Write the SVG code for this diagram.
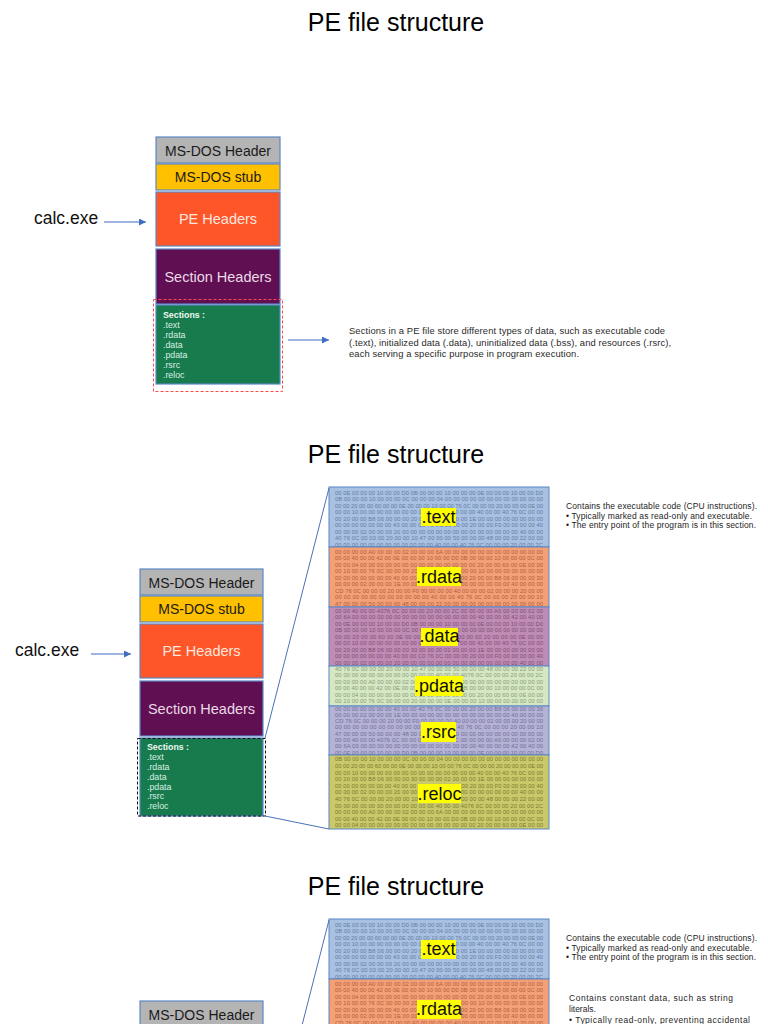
<svg xmlns="http://www.w3.org/2000/svg" width="768" height="1024" viewBox="0 0 768 1024">
<defs>
<marker id="ah" viewBox="0 0 10 10" refX="10" refY="5" markerWidth="7" markerHeight="7" markerUnits="userSpaceOnUse" orient="auto"><path d="M0,0 L10,5 L0,10 z" fill="#3f6fc0"/></marker>
<style>
text{font-family:"Liberation Sans",Arial,sans-serif}
.title{font-size:25px;fill:#000;text-anchor:middle}
.calc{font-size:17.5px;fill:#111}
.box{stroke:#5b86c5;stroke-width:1.2}
.bt{font-size:14px;text-anchor:middle}
.bt2{font-size:14.5px;text-anchor:middle}
.sec{font-size:8.8px;fill:#d9efe2}
.secb{font-size:8.8px;fill:#eef8f2;font-weight:bold}
.desc{font-size:9.4px;fill:#2a2a2a}
.desc2{font-size:8.5px;fill:#1e1e1e}
.hx{font-size:5.8px}
.ht{fill:#667ca2}.hr{fill:#b05d3c}.hd{fill:#824f74}.hp{fill:#8a9c79}.hs{fill:#736f98}.hl{fill:#7c7c2c}
.lab{fill:#ffff00}
.lt{font-size:18px;fill:#111;text-anchor:middle}
.zp{stroke:#5b86c5;stroke-width:1}
.conn{stroke:#3f6fc0;stroke-width:1.2;fill:none}
.zl{stroke:#4a72b8;stroke-width:1;fill:none}
</style>
</defs>
<rect width="768" height="1024" fill="#fff"/>

<!-- ================= PANEL 1 ================= -->
<text class="title" x="396" y="31">PE file structure</text>
<g id="p1-calc"><text class="calc" x="34" y="224">calc.exe</text></g>
<g id="p1-msdos-header"><rect class="box" x="156" y="137" width="124" height="26" fill="#b4b4b4"/><text class="bt" x="218" y="156" fill="#1a1a1a">MS-DOS Header</text></g>
<g id="p1-msdos-stub"><rect class="box" x="156" y="164" width="124" height="26" fill="#ffc000"/><text class="bt" x="218" y="182" fill="#1a1a1a">MS-DOS stub</text></g>
<g id="p1-pe-headers"><rect class="box" x="156" y="192" width="124" height="54" fill="#fe5628"/><text class="bt2" x="218" y="224" fill="#fbe6df">PE Headers</text></g>
<g id="p1-section-headers"><rect class="box" x="156" y="249" width="124" height="55" fill="#600f52"/><text class="bt2" x="218" y="282" fill="#ead9e6">Section Headers</text></g>
<g id="p1-sections"><rect class="box" x="156" y="305" width="124" height="79" fill="#187b4e"/>
<text class="secb" x="163" y="318">Sections :</text>
<text class="sec" x="163" y="328">.text</text>
<text class="sec" x="163" y="338">.rdata</text>
<text class="sec" x="163" y="347.5">.data</text>
<text class="sec" x="163" y="357.5">.pdata</text>
<text class="sec" x="163" y="367.5">.rsrc</text>
<text class="sec" x="163" y="377.5">.reloc</text>
<rect x="153.5" y="299.5" width="129" height="92" fill="none" stroke="#ff4a4a" stroke-width="1" stroke-dasharray="3,2"/></g>
<g id="p1-desc">
<text class="desc" x="349" y="334" textLength="316">Sections in a PE file store different types of data, such as executable code</text>
<text class="desc" x="349" y="346" textLength="322">(.text), initialized data (.data), uninitialized data (.bss), and resources (.rsrc),</text>
<text class="desc" x="349" y="357" textLength="230">each serving a specific purpose in program execution.</text>
</g>

<!-- ================= PANEL 2 ================= -->
<text class="title" x="396" y="463">PE file structure</text>
<g id="p2-calc"><text class="calc" x="15" y="656">calc.exe</text></g>
<g id="p2-msdos-header"><rect class="box" x="140" y="569" width="123" height="26" fill="#b4b4b4"/><text class="bt" x="201.5" y="588" fill="#1a1a1a">MS-DOS Header</text></g>
<g id="p2-msdos-stub"><rect class="box" x="140" y="596" width="123" height="26" fill="#ffc000"/><text class="bt" x="201.5" y="614" fill="#1a1a1a">MS-DOS stub</text></g>
<g id="p2-pe-headers"><rect class="box" x="140" y="624" width="123" height="54" fill="#fe5628"/><text class="bt2" x="201.5" y="656" fill="#fbe6df">PE Headers</text></g>
<g id="p2-section-headers"><rect class="box" x="140" y="681" width="123" height="55" fill="#600f52"/><text class="bt2" x="201.5" y="714" fill="#ead9e6">Section Headers</text></g>
<g id="p2-sections"><rect class="box" x="140" y="738" width="123" height="78" fill="#187b4e"/>
<text class="secb" x="147" y="750">Sections :</text>
<text class="sec" x="147" y="760">.text</text>
<text class="sec" x="147" y="770">.rdata</text>
<text class="sec" x="147" y="780">.data</text>
<text class="sec" x="147" y="789.5">.pdata</text>
<text class="sec" x="147" y="799">.rsrc</text>
<text class="sec" x="147" y="809">.reloc</text>
<rect x="137.5" y="738.5" width="128" height="77.5" fill="none" stroke="#111" stroke-width="1" stroke-dasharray="3,2"/></g>

<g id="p2-text">
<rect class="zp" x="329" y="487" width="220" height="60" fill="#a8c1e3"/>
<g class="hx ht">
<text x="335" y="494.5" textLength="208">00 0E 00 00 00 10 00 00 D0 0B 00 00 00 10 00 00 00 0E 00 00 00 10 00 00 D0</text>
<text x="335" y="501" textLength="208">0B 00 00 00 10 00 00 00 0C 00 00 00 04 00 00 00 00 00 00 00 00 00 00 00 00</text>
<text x="335" y="507.5" textLength="208">00 00 20 00 00 60 00 00 0E 00 00 00 10 00 00 76 0C 00 00 00 20 00 00 00 0E 00</text>
<text x="335" y="514" textLength="208">00 00 10 00 00 00 00 00 00 00 00 00 00 00 00 00 00 40 00 00 40 76 0C 00 00</text>
<text x="335" y="520.5" textLength="208">00 20 00 00 B8 06 00 00 00 20 00 00 00 00 00 00 1E 00 00 00 00 00 00 00 00</text>
<text x="335" y="527" textLength="208">00 00 00 00 00 00 00 40 00 00 C0 76 0C 00 00 00 20 00 00 F0 00 00 00 00 40</text>
<text x="335" y="533.5" textLength="208">00 00 00 02 00 00 00 20 00 00 00 00 00 00 00 00 00 00 00 00 00 00 40 00 00</text>
<text x="335" y="540" textLength="208">40 76 0C 00 00 00 20 00 00 10 47 00 00 00 50 00 00 00 48 00 00 00 22 00 00</text>
<text x="335" y="546.5" textLength="208">00 00 00 00 00 00 00 00 00 00 00 00 40 00 00 40 76 0C 00 00 00 20 00 00 2C</text>
</g>
<rect class="lab" x="421" y="508" width="35" height="18"/><text class="lt" x="438.5" y="523">.text</text>
</g>

<g id="p2-rdata">
<rect class="zp" x="329" y="547" width="220" height="60" fill="#f4a077"/>
<g class="hx hr">
<text x="335" y="553.5" textLength="208">00 00 00 00 A0 00 00 00 02 00 00 00 6A 00 00 00 00 00 00 00 00 00 00 00 00</text>
<text x="335" y="560" textLength="208">00 00 40 00 00 42 00 0E 00 00 00 10 00 00 D0 0B 00 00 00 10 00 00 00 0C 00</text>
<text x="335" y="566.5" textLength="208">00 00 04 00 00 00 00 00 00 00 00 00 00 00 00 00 00 20 00 00 60 00 0E 00 00</text>
<text x="335" y="573" textLength="208">00 10 00 00 76 0C 00 00 00 20 00 00 00 0E 00 00 00 10 00 00 00 00 00 00 00</text>
<text x="335" y="579.5" textLength="208">00 00 00 00 00 00 00 40 00 00 40 76 0C 00 00 00 20 00 00 B8 06 00 00 00 30</text>
<text x="335" y="586" textLength="208">00 00 00 02 00 00 00 1E 00 00 00 00 00 00 00 00 00 00 00 00 00 40 00 00 00</text>
<text x="335" y="592.5" textLength="208">CD 76 0C 00 00 00 20 00 00 F0 00 00 00 00 40 00 00 00 02 00 00 00 20 00 00</text>
<text x="335" y="599" textLength="208">00 00 00 00 00 00 00 00 00 00 00 40 00 00 40 76 0C 00 00 00 20 00 00 10</text>
<text x="335" y="605.5" textLength="208">47 00 00 00 50 00 00 00 48 00 00 00 22 00 00 00 00 00 00 00 00 00 00 00 00</text>
</g>
<rect class="lab" x="417" y="567" width="44" height="19"/><text class="lt" x="439" y="583">.rdata</text>
</g>

<g id="p2-data">
<rect class="zp" x="329" y="607" width="220" height="59" fill="#bf8cb6"/>
<g class="hx hd">
<text x="335" y="612.5" textLength="208">00 00 40 00 00 4076 0C 00 00 00 20 00 00 2C 00 00 00 00 A0 00 00 00 02 00</text>
<text x="335" y="619" textLength="208">00 6A 00 00 00 00 00 00 00 00 00 00 00 00 00 00 00 40 00 00 00 42 00 40 00</text>
<text x="335" y="625.5" textLength="208">00 0E 00 00 00 10 00 00 D0 0B 00 00 00 10 00 00 00 0E 00 00 00 10 00 00 D0</text>
<text x="335" y="632" textLength="208">0B 00 00 00 10 00 00 00 0C 00 00 00 04 00 00 00 00 00 00 00 00 00 00 00 00</text>
<text x="335" y="638.5" textLength="208">00 00 20 00 00 60 00 0E 00 00 00 10 00 0C 00 00 00 20 00 00 00 0E 00 00</text>
<text x="335" y="645" textLength="208">00 00 10 00 00 00 00 00 00 00 00 00 00 00 00 00 00 40 00 00 40 76 0C 00 00</text>
<text x="335" y="651.5" textLength="208">00 20 00 00 B8 06 00 00 00 30 00 00 00 02 00 00 00 1E 00 00 00 00 00 00 00</text>
<text x="335" y="658" textLength="208">00 00 00 00 00 00 00 40 00 00 C0 76 0C 00 00 00 20 00 00 F0 00 00 00 00 40</text>
<text x="335" y="664.5" textLength="208">00 00 00 02 00 00 00 20 00 00 00 00 00 00 00 00 00 00 00 00 00 00 40 00 00</text>
</g>
<rect class="lab" x="421" y="628" width="37" height="18"/><text class="lt" x="439.5" y="642">.data</text>
</g>

<g id="p2-pdata">
<rect class="zp" x="329" y="666" width="220" height="40" fill="#d5e7c3"/>
<g class="hx hp">
<text x="335" y="670.5" textLength="208">40 76 0C 00 00 00 20 00 00 10 47 00 00 00 50 00 00 00 48 00 00 00 22 00 00</text>
<text x="335" y="677" textLength="208">00 00 00 00 00 00 00 00 00 00 00 00 40 00 00 4076 0C 00 00 00 20 00 00 2C</text>
<text x="335" y="683.5" textLength="208">00 00 00 00 A0 00 00 00 02 00 00 00 6A 00 00 00 00 00 00 00 00 00 00 00 00</text>
<text x="335" y="690" textLength="208">00 00 40 00 00 42 00 0E 00 00 00 10 00 00 D0 0B 00 00 00 10 00 00 00 0C 00</text>
<text x="335" y="696.5" textLength="208">00 00 04 00 00 00 00 00 00 00 00 00 00 00 00 00 00 20 00 00 60 00 0E 00 00</text>
<text x="335" y="703" textLength="208">00 10 00 00 76 0C 00 00 00 20 00 00 00 0E 00 00 00 10 00 00 00 00 00 00 00</text>
</g>
<rect class="lab" x="415" y="676" width="48" height="20"/><text class="lt" x="439" y="692">.pdata</text>
</g>

<g id="p2-rsrc">
<rect class="zp" x="329" y="706" width="220" height="49" fill="#b4b2d5"/>
<g class="hx hs">
<text x="335" y="710.5" textLength="208">00 00 00 00 00 00 00 40 00 00 40 76 0C 00 00 00 20 00 00 B8 06 00 00 00 30</text>
<text x="335" y="716.8" textLength="208">00 00 00 02 00 00 00 1E 00 00 00 00 00 00 00 00 00 00 00 00 00 40 00 00 00</text>
<text x="335" y="723.1" textLength="208">CD 76 0C 00 00 00 20 00 00 F0 00 00 00 00 40 00 00 00 02 00 00 00 20 00 00</text>
<text x="335" y="729.4" textLength="208">00 00 00 00 00 00 00 00 00 00 00 40 00 00 40 76 0C 00 00 00 20 00 00 10</text>
<text x="335" y="735.7" textLength="208">47 00 00 00 50 00 00 00 48 00 00 00 22 00 00 00 00 00 00 00 00 00 00 00 00</text>
<text x="335" y="742" textLength="208">00 00 40 00 00 4076 0C 00 00 00 20 00 00 2C 00 00 00 00 A0 00 00 00 02 00</text>
<text x="335" y="748.3" textLength="208">00 6A 00 00 00 00 00 00 00 00 00 00 00 00 00 00 00 40 00 00 00 42 00 40 00</text>
<text x="335" y="754.6" textLength="208">00 0E 00 00 00 10 00 00 D0 0B 00 00 00 10 00 00 00 0E 00 00 00 10 00 00 D0</text>
</g>
<rect class="lab" x="421" y="722" width="35" height="20"/><text class="lt" x="438.5" y="738">.rsrc</text>
</g>

<g id="p2-reloc">
<rect class="zp" x="329" y="755" width="220" height="74" fill="#c9c96b"/>
<g class="hx hl">
<text x="335" y="761.3" textLength="208">0B 00 00 00 10 00 00 00 0C 00 00 00 04 00 00 00 00 00 00 00 00 00 00 00 00</text>
<text x="335" y="767.9" textLength="208">00 00 20 00 00 60 00 00 0E 00 00 00 10 00 00 76 0C 00 00 00 20 00 00 00 0E 00</text>
<text x="335" y="774.5" textLength="208">00 00 10 00 00 00 00 00 00 00 00 00 00 00 00 00 00 40 00 00 40 76 0C 00 00</text>
<text x="335" y="781.1" textLength="208">00 20 00 00 B8 06 00 00 00 30 00 00 00 02 00 00 00 1E 00 00 00 00 00 00 00</text>
<text x="335" y="787.7" textLength="208">00 00 00 00 00 00 00 40 00 00 C0 76 0C 00 00 00 20 00 00 F0 00 00 00 00 40</text>
<text x="335" y="794.3" textLength="208">00 00 00 02 00 00 00 20 00 00 00 00 00 00 00 00 00 00 00 00 00 00 40 00 00</text>
<text x="335" y="800.9" textLength="208">40 76 0C 00 00 00 20 00 00 10 47 00 00 00 50 00 00 00 48 00 00 00 22 00 00</text>
<text x="335" y="807.5" textLength="208">00 00 00 00 00 00 00 00 00 00 00 00 40 00 00 4076 0C 00 00 00 20 00 00 2C</text>
<text x="335" y="814.1" textLength="208">00 00 00 00 A0 00 00 00 02 00 00 00 6A 00 00 00 00 00 00 00 00 00 00 00 00</text>
<text x="335" y="820.7" textLength="208">00 00 40 00 00 42 00 0E 00 00 00 10 00 00 D0 0B 00 00 00 10 00 00 00 0C 00</text>
<text x="335" y="827.3" textLength="208">00 00 04 00 00 00 00 00 00 00 00 00 00 00 00 00 00 20 00 00 60 00 0E 00 00</text>
</g>
<rect class="lab" x="418" y="784" width="43" height="19"/><text class="lt" x="439.5" y="800">.reloc</text>
</g>

<g id="p2-desc">
<text class="desc2" x="566" y="509" textLength="191">Contains the executable code (CPU instructions).</text>
<text class="desc2" x="566" y="518.5" textLength="186">• Typically marked as read-only and executable.</text>
<text class="desc2" x="566" y="528" textLength="190">• The entry point of the program is in this section.</text>
</g>

<!-- ================= PANEL 3 ================= -->
<text class="title" x="396" y="895">PE file structure</text>
<g id="p3-msdos-header"><rect class="box" x="140" y="1001" width="123" height="26" fill="#b4b4b4"/><text class="bt" x="201.5" y="1020" fill="#1a1a1a">MS-DOS Header</text></g>

<g id="p3-text">
<rect class="zp" x="329" y="919" width="220" height="60" fill="#a8c1e3"/>
<g class="hx ht">
<text x="335" y="926.5" textLength="208">00 0E 00 00 00 10 00 00 D0 0B 00 00 00 10 00 00 00 0E 00 00 00 10 00 00 D0</text>
<text x="335" y="933" textLength="208">0B 00 00 00 10 00 00 00 0C 00 00 00 04 00 00 00 00 00 00 00 00 00 00 00 00</text>
<text x="335" y="939.5" textLength="208">00 00 20 00 00 60 00 00 0E 00 00 00 10 00 00 76 0C 00 00 00 20 00 00 00 0E 00</text>
<text x="335" y="946" textLength="208">00 00 10 00 00 00 00 00 00 00 00 00 00 00 00 00 00 40 00 00 40 76 0C 00 00</text>
<text x="335" y="952.5" textLength="208">00 20 00 00 B8 06 00 00 00 20 00 00 00 00 00 00 1E 00 00 00 00 00 00 00 00</text>
<text x="335" y="959" textLength="208">00 00 00 00 00 00 00 40 00 00 C0 76 0C 00 00 00 20 00 00 F0 00 00 00 00 40</text>
<text x="335" y="965.5" textLength="208">00 00 00 02 00 00 00 20 00 00 00 00 00 00 00 00 00 00 00 00 00 00 40 00 00</text>
<text x="335" y="972" textLength="208">40 76 0C 00 00 00 20 00 00 10 47 00 00 00 50 00 00 00 48 00 00 00 22 00 00</text>
<text x="335" y="978.5" textLength="208">00 00 00 00 00 00 00 00 00 00 00 00 40 00 00 40 76 0C 00 00 00 20 00 00 2C</text>
</g>
<rect class="lab" x="421" y="940" width="35" height="19"/><text class="lt" x="438.5" y="955">.text</text>
</g>

<g id="p3-rdata">
<rect class="zp" x="329" y="979" width="220" height="60" fill="#f4a077"/>
<g class="hx hr">
<text x="335" y="985.5" textLength="208">00 00 00 00 A0 00 00 00 02 00 00 00 6A 00 00 00 00 00 00 00 00 00 00 00 00</text>
<text x="335" y="992" textLength="208">00 00 40 00 00 42 00 0E 00 00 00 10 00 00 D0 0B 00 00 00 10 00 00 00 0C 00</text>
<text x="335" y="998.5" textLength="208">00 00 04 00 00 00 00 00 00 00 00 00 00 00 00 00 00 20 00 00 60 00 0E 00 00</text>
<text x="335" y="1005" textLength="208">00 10 00 00 76 0C 00 00 00 20 00 00 00 0E 00 00 00 10 00 00 00 00 00 00 00</text>
<text x="335" y="1011.5" textLength="208">00 00 00 00 00 00 00 40 00 00 40 76 0C 00 00 00 20 00 00 B8 06 00 00 00 30</text>
<text x="335" y="1018" textLength="208">00 00 00 02 00 00 00 1E 00 00 00 00 00 00 00 00 00 00 00 00 00 40 00 00 00</text>
<text x="335" y="1024.5" textLength="208">CD 76 0C 00 00 00 20 00 00 F0 00 00 00 00 40 00 00 00 02 00 00 00 20 00 00</text>
</g>
<rect class="lab" x="417" y="1000" width="44" height="19"/><text class="lt" x="439" y="1015">.rdata</text>
</g>

<g id="p3-desc">
<text class="desc2" x="566" y="941" textLength="191">Contains the executable code (CPU instructions).</text>
<text class="desc2" x="566" y="950.5" textLength="186">• Typically marked as read-only and executable.</text>
<text class="desc2" x="566" y="960" textLength="190">• The entry point of the program is in this section.</text>
<text class="desc2" x="569" y="1001" textLength="164">Contains constant data, such as string</text>
<text class="desc2" x="569" y="1012">literals.</text>
<text class="desc2" x="569" y="1023" textLength="181">• Typically read-only, preventing accidental</text>
</g>

<!-- ================= CONNECTORS ================= -->
<g id="connectors">
<line class="conn" x1="104" y1="222" x2="146" y2="222" marker-end="url(#ah)"/>
<line class="conn" x1="288" y1="340" x2="329" y2="340" marker-end="url(#ah)"/>
<line class="conn" x1="91" y1="654" x2="131" y2="654" marker-end="url(#ah)"/>
<line class="zl" x1="265" y1="738" x2="329" y2="488"/>
<line class="zl" x1="265" y1="816" x2="329" y2="829"/>
<line class="zl" x1="265" y1="1170" x2="329" y2="920"/>
</g>
</svg>
